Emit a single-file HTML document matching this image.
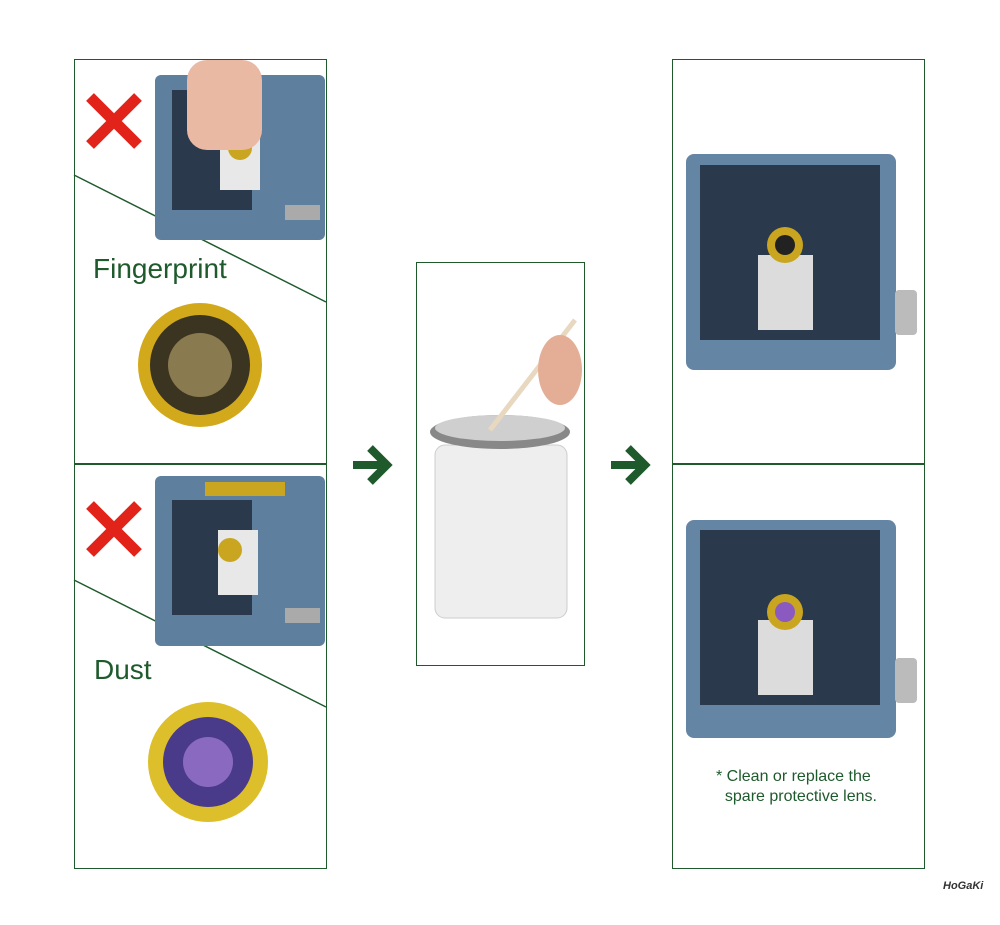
<!DOCTYPE html>
<html><head><meta charset="utf-8"><style>
body{margin:0;background:#fff;width:1000px;height:925px;position:relative;overflow:hidden;font-family:"Liberation Sans",sans-serif}
.a{position:absolute}
.box{position:absolute;border:1.5px solid #1e5a2c;box-sizing:border-box}
.t{position:absolute;color:#1e5a2c;font-size:28px}
</style></head><body>
<div class="box" style="left:74px;top:59px;width:253px;height:810px"></div>
<div class="a" style="left:74px;top:463px;width:253px;height:1.5px;background:#1e5a2c"></div>
<div class="box" style="left:416px;top:262px;width:169px;height:404px"></div>
<div class="box" style="left:672px;top:59px;width:253px;height:810px"></div>
<div class="a" style="left:672px;top:463px;width:253px;height:1.5px;background:#1e5a2c"></div>
<svg class="a" style="left:0;top:0" width="1000" height="925">
<line x1="74" y1="175" x2="326" y2="302" stroke="#1e5a2c" stroke-width="1.5"/>
<line x1="74" y1="580" x2="326" y2="707" stroke="#1e5a2c" stroke-width="1.5"/>
<rect x="155" y="75" width="170" height="165" rx="6" fill="#5f7f9e"/>
<rect x="172" y="90" width="80" height="120" fill="#2a3a4c"/>
<rect x="220" y="130" width="40" height="60" fill="#e8e8e8"/>
<circle cx="240" cy="148" r="12" fill="#c9a520"/>
<rect x="187" y="60" width="75" height="90" rx="20" fill="#e9b9a4"/>
<rect x="285" y="205" width="35" height="15" fill="#aaa"/>
<path d="M90 97 L138 145 M138 97 L90 145" stroke="#e2231a" stroke-width="11"/>
<path d="M90 505 L138 553 M138 505 L90 553" stroke="#e2231a" stroke-width="11"/>
<rect x="155" y="476" width="170" height="170" rx="6" fill="#5f7f9e"/>
<rect x="172" y="500" width="80" height="115" fill="#2a3a4c"/>
<rect x="218" y="530" width="40" height="65" fill="#e8e8e8"/>
<circle cx="230" cy="550" r="12" fill="#c9a520"/>
<rect x="205" y="482" width="80" height="14" fill="#c9a520"/>
<rect x="285" y="608" width="35" height="15" fill="#aaa"/>
<circle cx="200" cy="365" r="62" fill="#d3a91c"/>
<circle cx="200" cy="365" r="50" fill="#3a3420"/>
<circle cx="200" cy="365" r="32" fill="#8a7a50"/>
<circle cx="208" cy="762" r="60" fill="#dcbf2a"/>
<circle cx="208" cy="762" r="45" fill="#4a3a8a"/>
<circle cx="208" cy="762" r="25" fill="#8a6ac0"/>
<rect x="435" y="445" width="132" height="173" rx="10" fill="#eeeeee" stroke="#ccc"/>
<ellipse cx="500" cy="432" rx="70" ry="17" fill="#888"/>
<ellipse cx="500" cy="428" rx="65" ry="13" fill="#cfcfcf"/>
<line x1="490" y1="430" x2="575" y2="320" stroke="#e8d8c0" stroke-width="5"/>
<ellipse cx="560" cy="370" rx="22" ry="35" fill="#e3ae95"/>
<path d="M353 465 H385 M370 448 L387 465 L370 482" stroke="#1e5a2c" stroke-width="8" fill="none"/>
<path d="M611 465 H643 M628 448 L645 465 L628 482" stroke="#1e5a2c" stroke-width="8" fill="none"/>
<rect x="686" y="154" width="210" height="216" rx="8" fill="#6585a4"/>
<rect x="700" y="165" width="180" height="175" fill="#2a3a4c"/>
<rect x="758" y="255" width="55" height="75" fill="#dcdcdc"/>
<circle cx="785" cy="245" r="18" fill="#c9a520"/><circle cx="785" cy="245" r="10" fill="#222"/>
<rect x="895" y="290" width="22" height="45" rx="4" fill="#bbb"/>
<rect x="686" y="520" width="210" height="218" rx="8" fill="#6585a4"/>
<rect x="700" y="530" width="180" height="175" fill="#2a3a4c"/>
<rect x="758" y="620" width="55" height="75" fill="#dcdcdc"/>
<circle cx="785" cy="612" r="18" fill="#c9a520"/><circle cx="785" cy="612" r="10" fill="#8a5ac0"/>
<rect x="895" y="658" width="22" height="45" rx="4" fill="#bbb"/>
</svg>
<div class="t" style="left:93px;top:253px">Fingerprint</div>
<div class="t" style="left:94px;top:654px">Dust</div>
<div class="a" style="left:716px;top:767px;font-size:16px;color:#1e5a2c;line-height:20px">* Clean or replace the<br>&nbsp;&nbsp;spare protective lens.</div>
<div class="a" style="left:943px;top:880px;font-size:11px;font-weight:bold;color:#333;font-style:italic">HoGaKi</div>
</body></html>
